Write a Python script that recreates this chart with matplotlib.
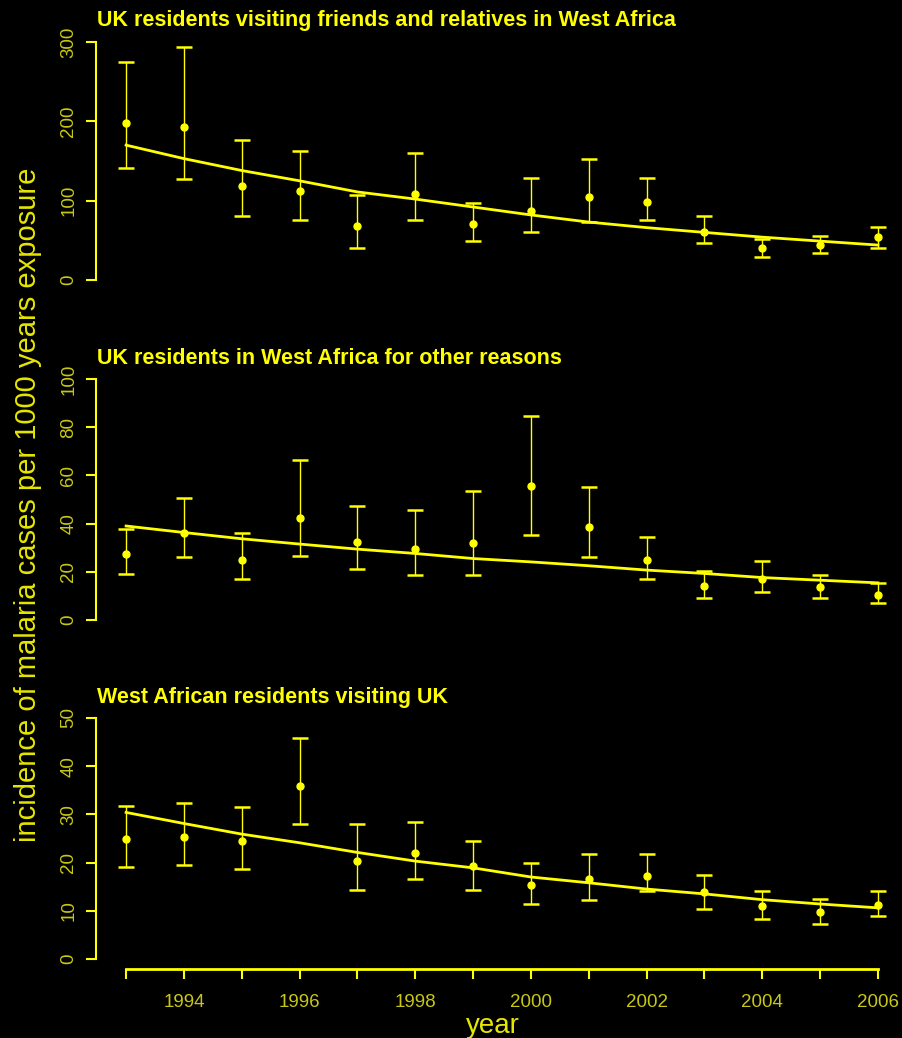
import matplotlib
matplotlib.use("Agg")
import matplotlib.pyplot as plt
import numpy as np

years = list(range(1993, 2007))

titles = [
    "UK residents visiting friends and relatives in West Africa",
    "UK residents in West Africa for other reasons",
    "West African residents visiting UK",
]

# Panel 1: VFR travellers
p1_point = [198, 193, 118, 112, 68, 109, 71, 87, 105, 98, 60, 40, 44, 54]
p1_upper = [275, 294, 176, 163, 107, 160, 97, 128, 152, 128, 81, 52, 55, 67]
p1_lower = [141, 127, 81, 75, 40, 75, 49, 60, 73, 75, 46, 29, 34, 40]
p1_fit = [170, 153, 138, 125, 111, 102, 92, 82, 73, 66, 60, 54, 49, 44]

# Panel 2: other reasons
p2_point = [27.2, 36.3, 24.8, 42.3, 32.5, 29.5, 31.8, 55.5, 38.7, 24.8, 14.1, 17.2, 13.6, 10.3]
p2_upper = [37.9, 50.5, 36.2, 66.4, 47.4, 45.8, 53.7, 84.6, 55.3, 34.5, 20.2, 24.4, 18.6, 15.4]
p2_lower = [19.0, 26.1, 17.1, 26.6, 21.2, 18.6, 18.6, 35.1, 26.1, 17.1, 9.2, 11.7, 9.2, 6.9]
p2_fit = [39.0, 36.3, 33.7, 31.5, 29.4, 27.6, 25.5, 24.1, 22.5, 20.7, 19.3, 17.6, 16.5, 15.4]

# Panel 3: West African residents
p3_point = [24.8, 25.2, 24.4, 35.9, 20.3, 21.9, 19.2, 15.4, 16.5, 17.2, 13.8, 10.9, 9.7, 11.1]
p3_upper = [31.8, 32.4, 31.6, 45.9, 27.9, 28.4, 24.4, 19.9, 21.8, 21.8, 17.5, 14.1, 12.4, 14.1]
p3_lower = [19.1, 19.4, 18.6, 27.9, 14.4, 16.5, 14.4, 11.4, 12.2, 14.0, 10.4, 8.3, 7.2, 8.9]
p3_fit = [30.4, 28.1, 25.9, 24.1, 22.1, 20.3, 18.9, 17.0, 15.8, 14.5, 13.5, 12.3, 11.4, 10.6]

y_max = [300, 100, 50]
y_ticks = [[0, 100, 200, 300], [0, 20, 40, 60, 80, 100], [0, 10, 20, 30, 40, 50]]
x_tick_labels = [1994, 1996, 1998, 2000, 2002, 2004, 2006]

panels = [
    (p1_point, p1_upper, p1_lower, p1_fit),
    (p2_point, p2_upper, p2_lower, p2_fit),
    (p3_point, p3_upper, p3_lower, p3_fit),
]

YEL = "#ffff00"
TICKC = "#c8c814"
FONT = ["Liberation Sans", "DejaVu Sans"]
plt.rcParams['font.family'] = FONT

W, H = 902, 1038
fig = plt.figure(figsize=(W / 100, H / 100), dpi=100, facecolor="black")

# pixel geometry (top, bottom) of each plot region
regions = [(32.5, 289.5), (369.4, 629.6), (708.3, 968.6)]
left_px, right_px = 96, 908

title_base = [26, 364, 703]

for i, (pt, up, lo, fit) in enumerate(panels):
    top, bot = regions[i]
    ax = fig.add_axes([left_px / W, 1 - bot / H, (right_px - left_px) / W, (bot - top) / H])
    ax.set_facecolor("black")
    ymax = y_max[i]
    pad = 0.04 * ymax
    ax.set_ylim(-pad, ymax + pad)
    ax.set_xlim(1993 - 0.52, 2006 + 0.52)
    pt_a = np.array(pt); up_a = np.array(up); lo_a = np.array(lo)
    ax.errorbar(years, pt_a, yerr=[pt_a - lo_a, up_a - pt_a], fmt="none",
                ecolor=YEL, elinewidth=1.0, capsize=6, capthick=1.8, zorder=2)
    ax.plot(years, pt, "o", color=YEL, markersize=5, zorder=3)
    ax.plot(years, fit, "-", color=YEL, linewidth=2.0, zorder=2)
    for s in ["top", "right"]:
        ax.spines[s].set_visible(False)
    ax.spines["left"].set_color(YEL)
    ax.spines["left"].set_linewidth(1.5)
    ax.spines["left"].set_bounds(0, ymax)
    ax.set_yticks(y_ticks[i])
    ax.set_yticklabels([str(t) for t in y_ticks[i]], rotation=90, va="center",
                       color=TICKC, fontsize=13.5)
    ax.tick_params(axis="y", colors=YEL, labelcolor=TICKC, length=7.5, width=1.5, pad=6)
    if i < 2:
        ax.spines["bottom"].set_visible(False)
        ax.set_xticks([])
    else:
        ax.spines["bottom"].set_color(YEL)
        ax.spines["bottom"].set_linewidth(2.0)
        ax.spines["bottom"].set_bounds(1993, 2006)
        ax.set_xticks(years)
        ax.set_xticklabels([str(y) if y in x_tick_labels else "" for y in years],
                           color=TICKC, fontsize=13.5)
        ax.tick_params(axis="x", colors=YEL, labelcolor=TICKC, length=7.5, width=1.5, pad=11)
    fig.text(97 / W, 1 - title_base[i] / H, titles[i], color=YEL, fontsize=15.5,
             fontweight="bold", ha="left", va="baseline")

fig.text(28 / W, 1 - 505 / H, "incidence of malaria cases per 1000 years exposure",
         color="#e6e600", fontsize=21, rotation=90, ha="center", va="center")
fig.text(493 / W, 1 - 1026 / H, "year", color="#e6e600", fontsize=20,
         ha="center", va="center")

fig.savefig("out.png", dpi=100, facecolor="black")
